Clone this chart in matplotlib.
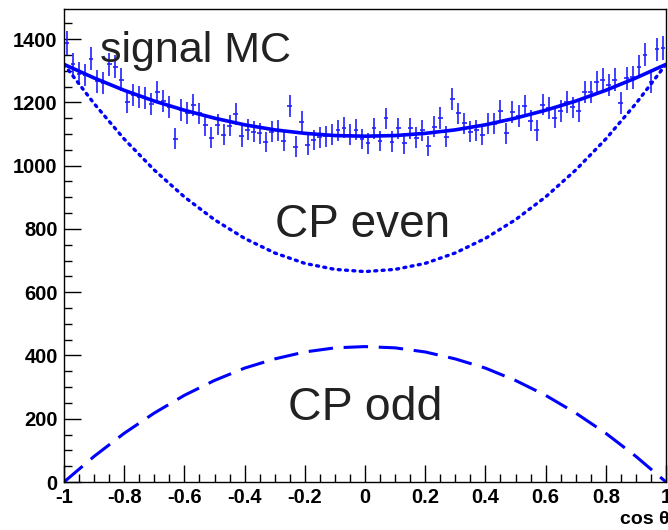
import numpy as np
import matplotlib
matplotlib.use("Agg")
import matplotlib.pyplot as plt
from matplotlib.ticker import MultipleLocator

# histogram: 100 bins of cos(theta) in [-1, 1]
bin_edges = np.linspace(-1, 1, 101)
signal_mc = [
    1388, 1320, 1290, 1286, 1338, 1266, 1261, 1320, 1312, 1272,
    1202, 1223, 1218, 1215, 1194, 1233, 1205, 1186, 1085, 1175,
    1166, 1192, 1165, 1128, 1088, 1129, 1097, 1126, 1163, 1093,
    1114, 1107, 1103, 1075, 1107, 1112, 1078, 1188, 1060, 1139,
    1065, 1081, 1089, 1093, 1097, 1112, 1120, 1097, 1114, 1084,
    1070, 1118, 1078, 1149, 1076, 1118, 1070, 1118, 1088, 1112,
    1062, 1123, 1151, 1091, 1211, 1165, 1134, 1107, 1112, 1097,
    1133, 1133, 1172, 1102, 1170, 1157, 1188, 1142, 1112, 1193,
    1181, 1152, 1172, 1202, 1184, 1173, 1233, 1233, 1263, 1272,
    1254, 1272, 1199, 1276, 1279, 1312, 1351, 1265, 1367, 1372,
]

# fitted curves, sampled every 0.1
curve_x = [-1.0, -0.9, -0.8, -0.7, -0.6, -0.5, -0.4, -0.3, -0.2, -0.1, 0.0,
           0.1, 0.2, 0.3, 0.4, 0.5, 0.6, 0.7, 0.8, 0.9, 1.0]
fit_total = [1320, 1277, 1238, 1204, 1175, 1150, 1129, 1113, 1102, 1095, 1093,
             1095, 1102, 1113, 1129, 1150, 1175, 1204, 1238, 1277, 1320]
cp_even = [1320, 1196, 1084, 986, 901, 829, 770, 724, 691, 672, 665,
           672, 691, 724, 770, 829, 901, 986, 1084, 1196, 1320]
cp_odd = [0, 81, 154, 218, 274, 321, 360, 389, 411, 424, 428,
          424, 411, 389, 360, 321, 274, 218, 154, 81, 0]

x_ticks = [-1, -0.8, -0.6, -0.4, -0.2, 0, 0.2, 0.4, 0.6, 0.8, 1]
x_tick_labels = ["-1", "-0.8", "-0.6", "-0.4", "-0.2", "0",
                 "0.2", "0.4", "0.6", "0.8", "1"]

plt.rcParams['font.family'] = ['Liberation Sans', 'DejaVu Sans']

fig = plt.figure(figsize=(6.68, 5.30), dpi=100)
ax = fig.add_axes([64 / 668, 48 / 530, 602 / 668, 473 / 530])

centers = 0.5 * (bin_edges[:-1] + bin_edges[1:])
counts = np.array(signal_mc)
ax.errorbar(centers, counts, yerr=np.sqrt(counts), xerr=0.008,
            fmt='none', ecolor='#2020ff', elinewidth=1.2, capsize=0)

ax.plot(curve_x, fit_total, color='#0000ff', lw=2.6, solid_capstyle='round')
ax.plot(curve_x, cp_even, color='#0000ff', lw=2.4, linestyle=(0, (0.6, 1.6)),
        dash_capstyle='round')
ax.plot(curve_x, cp_odd, color='#0000ff', lw=2.2, linestyle=(0, (8, 3.5)))

ax.set_xlim(-1, 1)
ax.set_ylim(0, 1495)

ax.set_xticks(x_ticks)
ax.set_xticklabels(x_tick_labels)
ax.xaxis.set_minor_locator(MultipleLocator(0.05))
ax.yaxis.set_major_locator(MultipleLocator(200))
ax.yaxis.set_minor_locator(MultipleLocator(50))
ax.tick_params(which='both', direction='in', top=False, right=False, width=1)
ax.tick_params(which='major', length=12, labelsize=14.5)
ax.tick_params(axis='y', which='major', pad=4.5)
ax.tick_params(axis='x', which='major', pad=4)
ax.tick_params(which='minor', length=6)
for lab in ax.get_xticklabels() + ax.get_yticklabels():
    lab.set_fontweight('bold')
for sp in ax.spines.values():
    sp.set_linewidth(1)

ax.text(-0.88, 1327, "signal MC", fontsize=31, color='#222222')
ax.text(-0.30, 774, "CP even", fontsize=33, color='#222222')
ax.text(-0.256, 196, "CP odd", fontsize=33.5, color='#222222')

fig.text(620 / 668, 10 / 530, "cos θ", fontsize=14, fontweight='bold',
         ha='left', va='center')

fig.savefig("out.png", dpi=100)
